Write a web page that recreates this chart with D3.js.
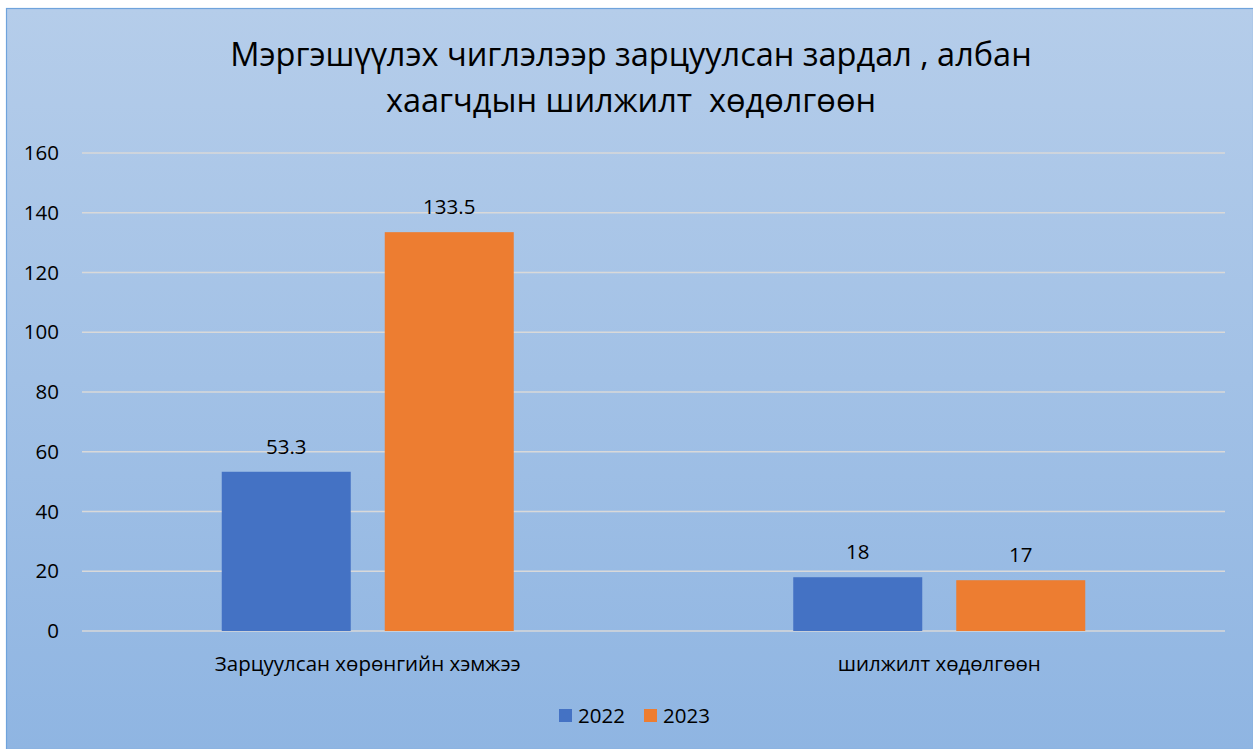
<!DOCTYPE html>
<html>
<head>
<meta charset="utf-8">
<script src="https://cdn.jsdelivr.net/npm/d3@7"></script>
<style>
  html, body { margin: 0; padding: 0; background: #fff; }
  svg { display: block; font-family: "Open Sans", "Noto Sans", sans-serif; }
</style>
</head>
<body>
<svg id="chart"></svg>
<script>
// chart data
const categories = ["Зарцуулсан хөрөнгийн хэмжээ", "шилжилт хөдөлгөөн"];
const seriesNames = ["2022", "2023"];
const values2022 = [53.3, 18];
const values2023 = [133.5, 17];
const yTicks = [0, 20, 40, 60, 80, 100, 120, 140, 160];
const titleLines = ["Мэргэшүүлэх чиглэлээр зарцуулсан зардал , албан", "хаагчдын шилжилт  хөдөлгөөн"];
const colors = ["#4472c4", "#ed7d31"];

const W = 1253, H = 749;
const fs = 20.5;
const svg = d3.select("#chart").attr("width", W).attr("height", H);

// background gradient
const grad = svg.append("defs").append("linearGradient")
    .attr("id", "bg").attr("x1", 0).attr("y1", 0).attr("x2", 0).attr("y2", 1);
grad.append("stop").attr("offset", "0%").attr("stop-color", "#b5cdea");
grad.append("stop").attr("offset", "100%").attr("stop-color", "#8fb5e2");

svg.append("rect")
    .attr("x", 6.5).attr("y", 8.5)
    .attr("width", W - 6).attr("height", H - 8)
    .attr("fill", "url(#bg)")
    .attr("stroke", "#6fa3dc").attr("stroke-width", 1.2);

// title
svg.append("text")
    .attr("text-anchor", "middle")
    .attr("font-size", 32.5)
    .attr("fill", "#000")
    .style("white-space", "pre")
  .selectAll("tspan")
  .data(titleLines)
  .join("tspan")
    .attr("x", 631)
    .attr("y", (d, i) => 66 + i * 46)
    .text(d => d);

const margin = {left: 82, right: 28, top: 153, bottom: 118};
const x0 = d3.scaleBand().domain(categories).range([margin.left, W - margin.right]);
const y = d3.scaleLinear().domain([0, 160]).range([H - margin.bottom, margin.top]);

// gridlines
svg.append("g")
  .selectAll("line")
  .data(yTicks)
  .join("line")
    .attr("x1", margin.left).attr("x2", W - margin.right)
    .attr("y1", d => y(d)).attr("y2", d => y(d))
    .attr("stroke", "#d9d9d9").attr("stroke-width", 1.3);

// y axis labels
const yAxis = svg.append("g")
    .attr("transform", `translate(${margin.left - 23},0)`)
    .call(d3.axisLeft(y).tickValues(yTicks).tickSize(0).tickPadding(0));
yAxis.select(".domain").remove();
yAxis.selectAll("text")
    .attr("font-size", fs).attr("fill", "#000")
    .attr("font-family", "Open Sans, sans-serif");

// bars
const barW = 129, gap = 34;
const rows = categories.map((c, i) => ({cat: c, vals: [values2022[i], values2023[i]]}));
const groups = svg.append("g").selectAll("g")
  .data(rows)
  .join("g")
    .attr("transform", d => `translate(${x0(d.cat) + x0.bandwidth() / 2},0)`);

const bar = groups.selectAll("g")
  .data(d => d.vals.map((v, j) => ({v, j})))
  .join("g");

bar.append("rect")
    .attr("x", d => d.j === 0 ? -gap / 2 - barW : gap / 2)
    .attr("y", d => y(d.v))
    .attr("width", barW)
    .attr("height", d => y(0) - y(d.v))
    .attr("fill", d => colors[d.j]);

bar.append("text")
    .attr("x", d => (d.j === 0 ? -gap / 2 - barW : gap / 2) + barW / 2)
    .attr("y", d => y(d.v) - 18)
    .attr("text-anchor", "middle")
    .attr("font-size", fs)
    .text(d => d.v);

// category labels
svg.append("g").selectAll("text")
  .data(categories)
  .join("text")
    .attr("x", d => x0(d) + x0.bandwidth() / 2)
    .attr("y", 671)
    .attr("text-anchor", "middle")
    .attr("font-size", fs)
    .text(d => d);

// legend
const legend = svg.append("g").selectAll("g")
  .data(seriesNames)
  .join("g")
    .attr("transform", (d, i) => `translate(${559 + i * 85},709)`);
legend.append("rect")
    .attr("width", 13).attr("height", 13)
    .attr("fill", (d, i) => colors[i]);
legend.append("text")
    .attr("x", 19).attr("y", 14)
    .attr("font-size", fs)
    .text(d => d);
</script>
</body>
</html>
